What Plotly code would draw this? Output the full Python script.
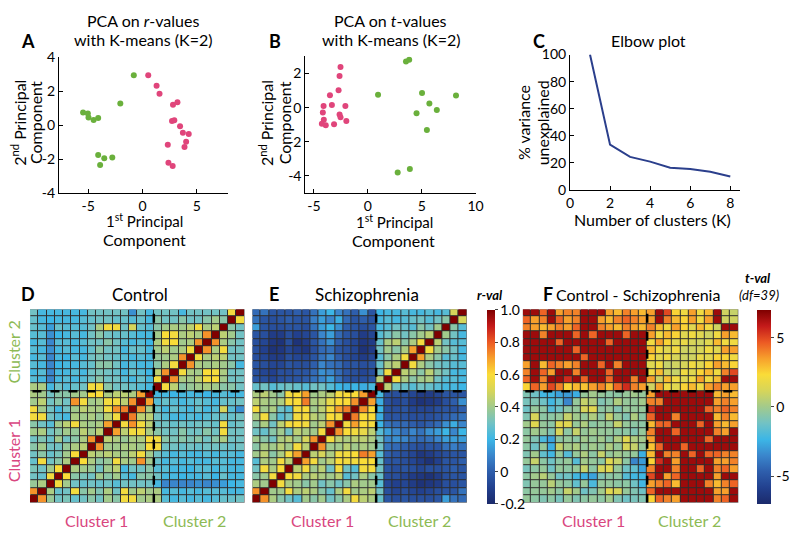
import plotly.graph_objects as go

# ---------------- data ----------------
# Panel A: PCA on r-values (cluster 1 = pink, cluster 2 = green)
a_c1_x = [0.53, 1.3, 1.57, 2.81, 3.22, 2.72, 2.93, 3.46, 3.72, 4.26, 4.02, 3.87, 2.33, 2.39, 2.78]
a_c1_y = [2.95, 2.33, 1.86, 1.21, 1.36, 0.25, 0.29, -0.06, -0.44, -0.52, -0.98, -1.28, -1.15, -2.22, -2.41]
a_c2_x = [-0.8, -2.04, -5.47, -5.03, -4.97, -4.5, -4.08, -4.08, -3.52, -2.78, -3.9]
a_c2_y = [2.95, 1.28, 0.75, 0.69, 0.46, 0.31, 0.42, -1.76, -1.95, -1.91, -2.35]

# Panel B: PCA on t-values
b_c1_x = [-2.53, -2.62, -2.71, -3.51, -4.1, -3.33, -2.08, -4.17, -2.62, -2.53, -4.08, -1.99, -4.26, -3.9, -3.13]
b_c1_y = [2.38, 1.85, 1.02, 0.73, 0.1, 0.16, 0.1, -0.29, -0.4, -0.56, -0.71, -0.78, -0.94, -1.03, -0.97]
b_c2_x = [3.54, 3.84, 0.95, 5.03, 5.71, 4.52, 6.4, 8.18, 5.48, 2.77, 3.9]
b_c2_y = [2.7, 2.8, 0.75, 0.86, 0.24, -0.33, -0.14, 0.71, -1.31, -3.8, -3.59]

# Panel C: elbow plot
k_clusters = [1, 2, 3, 4, 5, 6, 7, 8]
var_unexplained = [100, 33.5, 24.5, 21, 16.5, 15.5, 13.5, 10]

# Panel D: Control r-values (lower triangle, row 0 = bottom; 15 cluster-1 then 11 cluster-2 regions)
control_lower = [
    [1.0],
    [0.72, 1.0],
    [0.38, 0.42, 1.0],
    [0.3, 0.28, 0.58, 1.0],
    [0.32, 0.3, 0.4, 0.6, 1.0],
    [0.28, 0.58, 0.3, 0.35, 0.42, 1.0],
    [0.3, 0.35, 0.28, 0.32, 0.4, 0.6, 1.0],
    [0.35, 0.4, 0.3, 0.3, 0.38, 0.42, 0.45, 1.0],
    [0.3, 0.33, 0.28, 0.4, 0.3, 0.35, 0.42, 0.72, 1.0],
    [0.4, 0.42, 0.3, 0.35, 0.4, 0.38, 0.45, 0.4, 0.45, 1.0],
    [0.35, 0.3, 0.25, 0.4, 0.45, 0.58, 0.42, 0.4, 0.42, 0.7, 1.0],
    [0.58, 0.58, 0.3, 0.25, 0.22, 0.42, 0.4, 0.42, 0.38, 0.45, 0.58, 1.0],
    [0.58, 0.4, 0.3, 0.22, 0.3, 0.4, 0.45, 0.42, 0.42, 0.58, 0.72, 0.75, 1.0],
    [0.4, 0.45, 0.3, 0.35, 0.3, 0.72, 0.58, 0.4, 0.42, 0.58, 0.58, 0.45, 0.72, 1.0],
    [0.42, 0.4, 0.3, 0.35, 0.35, 0.4, 0.4, 0.6, 0.6, 0.42, 0.45, 0.45, 0.42, 0.7, 1.0],
    [0.42, 0.42, 0.22, 0.3, 0.25, 0.28, 0.3, 0.58, 0.58, 0.35, 0.3, 0.3, 0.28, 0.25, 0.22, 1.0],
    [0.25, 0.22, 0.1, 0.22, 0.25, 0.22, 0.25, 0.3, 0.35, 0.3, 0.3, 0.25, 0.22, 0.28, 0.22, 0.58, 1.0],
    [0.22, 0.25, 0.1, 0.22, 0.22, 0.25, 0.22, 0.3, 0.32, 0.3, 0.28, 0.22, 0.28, 0.25, 0.2, 0.45, 0.72, 1.0],
    [0.25, 0.22, 0.1, 0.2, 0.22, 0.22, 0.25, 0.28, 0.35, 0.35, 0.3, 0.22, 0.25, 0.22, 0.22, 0.35, 0.42, 0.58, 1.0],
    [0.22, 0.25, 0.1, 0.22, 0.2, 0.25, 0.22, 0.3, 0.32, 0.3, 0.28, 0.25, 0.22, 0.25, 0.22, 0.38, 0.4, 0.42, 0.72, 1.0],
    [0.25, 0.22, 0.12, 0.22, 0.25, 0.22, 0.22, 0.28, 0.35, 0.3, 0.3, 0.22, 0.28, 0.28, 0.22, 0.4, 0.45, 0.4, 0.42, 0.58, 1.0],
    [0.22, 0.25, 0.1, 0.25, 0.25, 0.22, 0.25, 0.3, 0.3, 0.35, 0.3, 0.25, 0.22, 0.25, 0.2, 0.42, 0.58, 0.6, 0.4, 0.42, 0.72, 1.0],
    [0.25, 0.25, 0.12, 0.2, 0.22, 0.25, 0.22, 0.3, 0.35, 0.3, 0.28, 0.28, 0.25, 0.22, 0.22, 0.4, 0.6, 0.58, 0.42, 0.45, 0.42, 0.72, 1.0],
    [0.28, 0.25, 0.15, 0.28, 0.25, 0.25, 0.25, 0.3, 0.42, 0.58, 0.58, 0.3, 0.5, 0.28, 0.25, 0.35, 0.4, 0.42, 0.4, 0.45, 0.58, 0.42, 0.45, 1.0],
    [0.28, 0.22, 0.2, 0.22, 0.22, 0.22, 0.25, 0.28, 0.3, 0.3, 0.28, 0.28, 0.25, 0.28, 0.22, 0.35, 0.3, 0.3, 0.35, 0.3, 0.3, 0.35, 0.4, 0.35, 1.0],
    [0.3, 0.22, 0.22, 0.22, 0.22, 0.22, 0.22, 0.3, 0.3, 0.3, 0.3, 0.3, 0.12, 0.3, 0.22, 0.3, 0.3, 0.3, 0.22, 0.3, 0.3, 0.3, 0.3, 0.3, 0.58, 1.0],
]

# Panel E: Schizophrenia r-values (lower triangle)
schizo_lower = [
    [1.0],
    [0.72, 1.0],
    [0.42, 0.4, 1.0],
    [0.35, 0.4, 0.58, 1.0],
    [0.3, 0.58, 0.42, 0.6, 1.0],
    [0.25, 0.42, 0.4, 0.58, 0.45, 1.0],
    [0.4, 0.45, 0.35, 0.42, 0.58, 0.7, 1.0],
    [0.35, 0.42, 0.4, 0.45, 0.4, 0.58, 0.45, 1.0],
    [0.4, 0.35, 0.3, 0.42, 0.45, 0.4, 0.5, 0.72, 1.0],
    [0.3, 0.28, 0.35, 0.4, 0.3, 0.45, 0.42, 0.4, 0.58, 1.0],
    [0.35, 0.42, 0.3, 0.45, 0.58, 0.6, 0.58, 0.4, 0.45, 0.72, 1.0],
    [0.42, 0.58, 0.35, 0.25, 0.3, 0.58, 0.58, 0.45, 0.42, 0.6, 0.58, 1.0],
    [0.58, 0.4, 0.42, 0.3, 0.25, 0.58, 0.6, 0.4, 0.45, 0.58, 0.7, 0.75, 1.0],
    [0.45, 0.42, 0.4, 0.42, 0.58, 0.6, 0.75, 0.42, 0.45, 0.55, 0.6, 0.6, 0.72, 1.0],
    [0.42, 0.45, 0.4, 0.35, 0.58, 0.6, 0.7, 0.4, 0.42, 0.45, 0.58, 0.6, 0.6, 0.7, 1.0],
    [0.28, 0.3, 0.25, 0.28, 0.3, 0.28, 0.25, 0.3, 0.3, 0.25, 0.2, 0.18, 0.2, 0.18, 0.22, 1.0],
    [-0.03, -0.05, -0.08, -0.05, -0.03, -0.03, 0.0, 0.05, 0.1, 0.15, 0.05, -0.03, -0.05, -0.05, -0.03, 0.45, 1.0],
    [-0.05, -0.08, -0.1, -0.05, -0.05, -0.03, -0.03, 0.03, 0.12, 0.1, 0.03, -0.03, -0.05, -0.08, -0.05, 0.3, 0.58, 1.0],
    [-0.03, -0.05, -0.08, -0.08, -0.03, -0.05, -0.05, 0.0, 0.1, 0.05, 0.03, -0.03, -0.03, -0.05, -0.03, 0.28, 0.42, 0.45, 1.0],
    [-0.05, -0.08, -0.12, -0.12, -0.05, -0.08, -0.08, -0.03, 0.05, 0.1, 0.0, -0.05, -0.08, -0.12, -0.08, 0.25, 0.35, 0.42, 0.58, 1.0],
    [-0.05, -0.1, -0.16, -0.14, -0.08, -0.12, -0.14, -0.05, 0.03, 0.05, -0.03, -0.05, -0.08, -0.16, -0.12, 0.3, 0.4, 0.35, 0.42, 0.7, 1.0],
    [-0.05, -0.08, -0.14, -0.16, -0.05, -0.16, -0.12, -0.03, 0.05, 0.12, 0.0, -0.05, -0.08, -0.14, -0.12, 0.28, 0.42, 0.45, 0.35, 0.42, 0.58, 1.0],
    [-0.03, -0.05, -0.12, -0.12, -0.05, -0.1, -0.08, -0.03, 0.1, 0.15, 0.03, -0.03, -0.05, -0.12, -0.08, 0.25, 0.3, 0.35, 0.3, 0.35, 0.4, 0.45, 1.0],
    [0.15, -0.03, -0.05, -0.05, -0.03, -0.03, -0.05, 0.05, 0.15, 0.2, 0.12, 0.0, -0.03, -0.05, -0.03, 0.22, 0.25, 0.3, 0.28, 0.25, 0.35, 0.3, 0.4, 1.0],
    [0.05, -0.03, -0.05, -0.03, 0.0, -0.03, -0.03, 0.08, 0.15, 0.1, 0.18, 0.03, -0.03, 0.0, -0.03, 0.22, 0.25, 0.22, 0.25, 0.28, 0.3, 0.25, 0.3, 0.35, 1.0],
    [0.03, 0.05, -0.03, -0.03, -0.03, 0.0, -0.03, 0.05, 0.15, 0.2, 0.1, 0.05, 0.0, 0.12, -0.03, 0.2, 0.22, 0.22, 0.25, 0.22, 0.22, 0.25, 0.22, 0.25, 0.5, 1.0],
]

# Panel F: Control - Schizophrenia t-values (lower triangle)
tval_lower = [
    [-0.3],
    [-0.5, -0.3],
    [-0.8, -0.3, -0.3],
    [-0.5, 0.0, 0.5, -0.3],
    [-1.0, -0.5, -0.3, -1.2, -0.3],
    [-0.3, 0.8, -0.5, -1.2, -0.5, -0.3],
    [-0.8, 0.0, -1.5, -2.2, -0.3, -1.8, -0.3],
    [-0.5, -1.2, -0.3, -2.5, 0.8, 0.0, 0.3, -0.3],
    [-0.3, -0.8, -2.0, -2.8, -0.5, -0.3, -0.5, 0.0, -0.3],
    [-0.5, 0.0, -0.3, -0.8, 1.2, -0.5, 0.8, -0.3, 0.0, -0.3],
    [0.0, 1.5, -0.3, -0.5, 1.5, 1.5, -0.3, 0.3, -0.5, -0.3, -0.3],
    [-0.8, 1.2, -0.5, -0.5, -0.3, 0.8, 0.0, -0.3, 0.3, -0.5, 0.8, -0.3],
    [-1.2, -0.3, -0.5, -1.8, -1.2, -0.5, -0.3, 1.2, 1.5, -0.5, -0.3, -0.8, -0.3],
    [-1.0, -0.8, -1.2, -2.2, -1.5, -3.5, -0.3, 0.8, 0.3, -0.8, -0.5, 0.3, -0.3, -0.3],
    [-0.8, -1.2, -2.2, -2.2, -2.8, -3.0, -2.5, -0.3, 0.0, -0.3, -0.5, -0.5, -0.3, 0.0, -0.3],
    [2.5, 4.5, 3.5, 5.0, 4.0, 2.5, 3.0, 2.8, 3.5, 4.0, 3.0, 4.5, 5.5, 4.0, 3.5, 1.0],
    [4.5, 6.5, 4.0, 6.5, 6.5, 5.5, 6.5, 4.5, 6.5, 6.5, 4.5, 6.5, 6.5, 4.0, 6.5, 3.5, 1.0],
    [4.0, 6.5, 4.5, 3.5, 6.5, 6.5, 4.0, 6.5, 6.5, 6.5, 4.5, 6.5, 6.5, 6.5, 6.5, 2.0, 3.0, 1.0],
    [3.5, 6.5, 3.0, 4.5, 4.0, 3.5, 4.0, 6.5, 6.5, 4.5, 6.5, 4.0, 6.5, 6.5, 6.5, 1.5, 2.0, 0.8, 1.0],
    [6.5, 6.5, 6.5, 6.5, 6.5, 6.5, 6.5, 4.5, 6.5, 6.5, 6.5, 6.5, 6.5, 6.5, 6.5, 2.5, 1.5, 2.0, 1.2, 1.0],
    [6.5, 6.5, 6.5, 6.5, 6.5, 6.5, 4.5, 6.5, 6.5, 6.5, 6.5, 6.5, 6.5, 6.5, 6.5, 3.0, 2.0, 1.5, 2.0, 1.0, 1.0],
    [6.5, 6.5, 6.5, 6.5, 4.5, 6.5, 6.5, 6.5, 6.5, 6.5, 4.5, 6.5, 6.5, 6.5, 6.5, 2.0, 3.5, 2.5, 1.5, 1.8, 1.2, 1.0],
    [6.5, 6.5, 4.0, 6.5, 6.5, 6.5, 4.5, 6.5, 4.5, 6.5, 6.5, 6.5, 4.5, 6.5, 6.5, 3.5, 2.0, 3.0, 2.5, 1.5, 2.0, 1.5, 1.0],
    [4.0, 3.5, 3.0, 3.5, 4.0, 3.5, 4.5, 6.5, 6.5, 4.0, 3.5, 3.0, 4.0, 3.5, 3.0, 4.0, 3.0, 2.0, 3.5, 2.5, 1.5, 3.0, 2.0, 1.0],
    [4.5, 3.5, 4.0, 6.5, 4.5, 3.5, 4.0, 6.5, 6.5, 3.5, 3.0, 4.0, 4.5, 4.0, 3.5, 3.5, 6.5, 4.0, 3.0, 2.5, 3.5, 2.0, 3.5, 6.5, 1.0],
    [6.5, 6.5, 4.5, 6.5, 3.5, 4.0, 4.0, 6.5, 6.5, 6.5, 3.5, 3.0, 4.0, 3.5, 3.0, 3.5, 6.5, 5.0, 2.5, 2.0, 3.5, 2.0, 3.0, 6.5, 1.0, 0.8],
]

cluster_split = 14.5
r_ticks = [-0.2, 0, 0.2, 0.4, 0.6, 0.8, 1.0]
r_ticktext = ["-0.2", "0", "0.2", "0.4", "0.6", "0.8", "1.0"]
t_ticks = [-5, 0, 5]
t_ticktext = ["-5", "0", "5"]


def full_matrix(lower):
    n = len(lower)
    z = [[0.0] * n for _ in range(n)]
    for i, row in enumerate(lower):
        for j, v in enumerate(row):
            z[i][j] = v
            z[j][i] = v
    return z


# ---------------- style ----------------
W, H = 800, 537
FONT = "Lato"
PINK = "#e0457b"
GREEN = "#6ab03c"
PINK_T = "#d9467f"
GREEN_T = "#8dba54"

cs = [[0.0, '#1b2a6b'], [0.083, '#22408e'], [0.167, '#2e5eac'], [0.25, '#3a86cc'],
      [0.333, '#3cb6e6'], [0.417, '#72c2c4'], [0.5, '#a2ca8c'], [0.583, '#d6d55a'],
      [0.667, '#fadc38'], [0.75, '#f7a02c'], [0.833, '#ec5a24'], [0.917, '#c41a1a'],
      [1.0, '#7f0000']]


def px_x(x0, x1):
    return [x0 / W, x1 / W]


def px_y(y0, y1):
    return [1 - y1 / H, 1 - y0 / H]


fig = go.Figure()

# Panel A
fig.add_trace(go.Scatter(x=a_c1_x, y=a_c1_y, mode="markers", marker=dict(color=PINK, size=6),
                         xaxis="x", yaxis="y", showlegend=False))
fig.add_trace(go.Scatter(x=a_c2_x, y=a_c2_y, mode="markers", marker=dict(color=GREEN, size=6),
                         xaxis="x", yaxis="y", showlegend=False))
# Panel B
fig.add_trace(go.Scatter(x=b_c1_x, y=b_c1_y, mode="markers", marker=dict(color=PINK, size=6),
                         xaxis="x2", yaxis="y2", showlegend=False))
fig.add_trace(go.Scatter(x=b_c2_x, y=b_c2_y, mode="markers", marker=dict(color=GREEN, size=6),
                         xaxis="x2", yaxis="y2", showlegend=False))
# Panel C
fig.add_trace(go.Scatter(x=k_clusters, y=var_unexplained, mode="lines",
                         line=dict(color="#2b3f8c", width=2), xaxis="x3", yaxis="y3", showlegend=False))

idx = list(range(len(control_lower)))
cb_common = dict(xanchor="left", y=1 - 411 / H, yanchor="middle", len=200 / H, lenmode="fraction",
                 ypad=0, outlinewidth=0, ticks="outside", ticklen=3,
                 tickfont=dict(family=FONT, size=14, color="black"))
# Panel D
fig.add_trace(go.Heatmap(z=full_matrix(control_lower), x=idx, y=idx, colorscale=cs, zmin=-0.2, zmax=1.0,
                         xgap=1, ygap=1, showscale=False, xaxis="x4", yaxis="y4", hoverinfo="skip"))
# Panel E
fig.add_trace(go.Heatmap(z=full_matrix(schizo_lower), x=idx, y=idx, colorscale=cs, zmin=-0.2, zmax=1.0,
                         xgap=1, ygap=1, xaxis="x5", yaxis="y5", hoverinfo="skip",
                         colorbar=dict(x=491 / W, thickness=8, tickvals=r_ticks, ticktext=r_ticktext,
                                       **cb_common)))
# Panel F
fig.add_trace(go.Heatmap(z=full_matrix(tval_lower), x=idx, y=idx, colorscale=cs, zmin=-7, zmax=7,
                         xgap=1, ygap=1, xaxis="x6", yaxis="y6", hoverinfo="skip",
                         colorbar=dict(x=772 / W, thickness=14, tickvals=t_ticks, ticktext=t_ticktext,
                                       **cb_common)))

line_ax = dict(showline=True, linecolor="black", linewidth=1, ticks="inside", ticklen=4,
               tickcolor="black", showgrid=False, zeroline=False, mirror=False,
               tickfont=dict(family=FONT, size=14, color="black"))
hm_ax = dict(showline=False, showgrid=False, zeroline=False, showticklabels=False, ticks="",
             range=[-0.5, 25.5])

layout = dict(
    width=W, height=H, margin=dict(l=0, r=0, t=0, b=0),
    paper_bgcolor="white", plot_bgcolor="white",
    font=dict(family=FONT, color="black"),
    xaxis=dict(domain=px_x(57, 233), range=[-7.7, 7.9], tickvals=[-5, 0, 5], ticktext=["-5", "0", "5"],
               anchor="y", **line_ax),
    yaxis=dict(domain=px_y(50, 190), range=[-4, 4], tickvals=[-4, -2, 0, 2, 4],
               ticktext=["-4", "-2", "0", "2", "4"], anchor="x", **line_ax),
    xaxis2=dict(domain=px_x(313, 490), range=[-5.8, 10], tickvals=[-5, 0, 5, 10],
                ticktext=["-5", "0", "5", "10"], anchor="y2", **line_ax),
    yaxis2=dict(domain=px_y(49, 190), range=[-5, 3], tickvals=[-4, -2, 0, 2],
                ticktext=["-4", "-2", "0", "2"], anchor="x2", **line_ax),
    xaxis3=dict(domain=px_x(588, 765), range=[0, 8.5], tickvals=[0, 2, 4, 6, 8], anchor="y3", **line_ax),
    yaxis3=dict(domain=px_y(47, 187), range=[0, 100], tickvals=[0, 20, 40, 60, 80, 100], anchor="x3", **line_ax),
    xaxis4=dict(domain=px_x(27, 250), anchor="y4", **hm_ax),
    yaxis4=dict(domain=px_y(310, 510), anchor="x4", **hm_ax),
    xaxis5=dict(domain=px_x(258, 481), anchor="y5", **hm_ax),
    yaxis5=dict(domain=px_y(310, 510), anchor="x5", **hm_ax),
    xaxis6=dict(domain=px_x(539, 763), anchor="y6", **hm_ax),
    yaxis6=dict(domain=px_y(310, 510), anchor="x6", **hm_ax),
)
fig.update_layout(**layout)

shapes = []
for k in ["4", "5", "6"]:
    xr, yr = "x" + k, "y" + k
    shapes.append(dict(type="rect", xref=xr, yref=yr, x0=-0.5, x1=25.5, y0=-0.5, y1=25.5,
                       fillcolor="#2e2e2e", line=dict(color="#9a9a9a", width=1), layer="below"))
    shapes.append(dict(type="line", xref=xr, yref=yr, x0=cluster_split, x1=cluster_split, y0=-0.5, y1=25.5,
                       line=dict(color="black", width=2.5, dash="dash")))
    shapes.append(dict(type="line", xref=xr, yref=yr, x0=-0.2, x1=25.5, y0=cluster_split, y1=cluster_split,
                       line=dict(color="black", width=2.5, dash="dash")))
fig.update_layout(shapes=shapes)

anns = []


def ann(text, x, y, size=16, color="black", angle=0, xanchor="center"):
    anns.append(dict(text=text, x=x / W, y=1 - y / H, xref="paper", yref="paper", showarrow=False,
                     xanchor=xanchor, yanchor="middle", textangle=angle,
                     font=dict(family=FONT, size=size, color=color)))


# panel letters
for letter, x, y in [("A", 25, 33), ("B", 282, 33), ("C", 556, 33), ("D", 25, 294), ("E", 280, 294), ("F", 565, 294)]:
    ann("<b>" + letter + "</b>", x, y, size=18)

# top titles
ann("PCA on <i>r</i>-values", 144, 12, 16)
ann("with K-means (K=2)", 144, 32, 16)
ann("PCA on <i>t</i>-values", 402, 12, 16)
ann("with K-means (K=2)", 402, 32, 16)
ann("Elbow plot", 670, 33, 16)

# axis titles (one annotation per line)
ann("2<sup>nd</sup> Principal", 15, 117, 16, angle=-90)
ann("Component", 33, 117, 16, angle=-90)
ann("1<sup>st</sup> Principal", 146, 218, 15)
ann("Component", 146, 238, 16)
ann("2<sup>nd</sup> Principal", 272, 118, 16, angle=-90)
ann("Component", 291, 118, 16, angle=-90)
ann("1<sup>st</sup> Principal", 406, 219, 15)
ann("Component", 405, 239, 16)
ann("% variance", 540, 117, 16, angle=-90)
ann("unexplained", 559, 118, 16, angle=-90)
ann("Number of clusters (K)", 674, 217, 16)

# heatmap titles
ann("Control", 141, 295, 17)
ann("Schizophrenia", 377, 295, 17)
ann("Control - Schizophrenia", 659, 295, 16)
ann("<b><i>r-val</i></b>", 505, 295, 13)
ann("<b><i>t-val</i></b>", 783, 278, 13)
ann("<i>(df=39)</i>", 784, 295, 13)

# cluster labels
ann("Cluster 2", 10, 354, 16, GREEN_T, angle=-90)
ann("Cluster 1", 10, 456, 16, PINK_T, angle=-90)
for c1x, c2x in [(96, 198), (331, 432), (612, 712)]:
    ann("Cluster 1", c1x, 528, 16, PINK_T)
    ann("Cluster 2", c2x, 528, 16, GREEN_T)

fig.update_layout(annotations=anns)
fig.write_html("out.html", config={"displayModeBar": False},
               post_script="document.body.style.margin='0px';document.body.style.overflow='hidden';")
